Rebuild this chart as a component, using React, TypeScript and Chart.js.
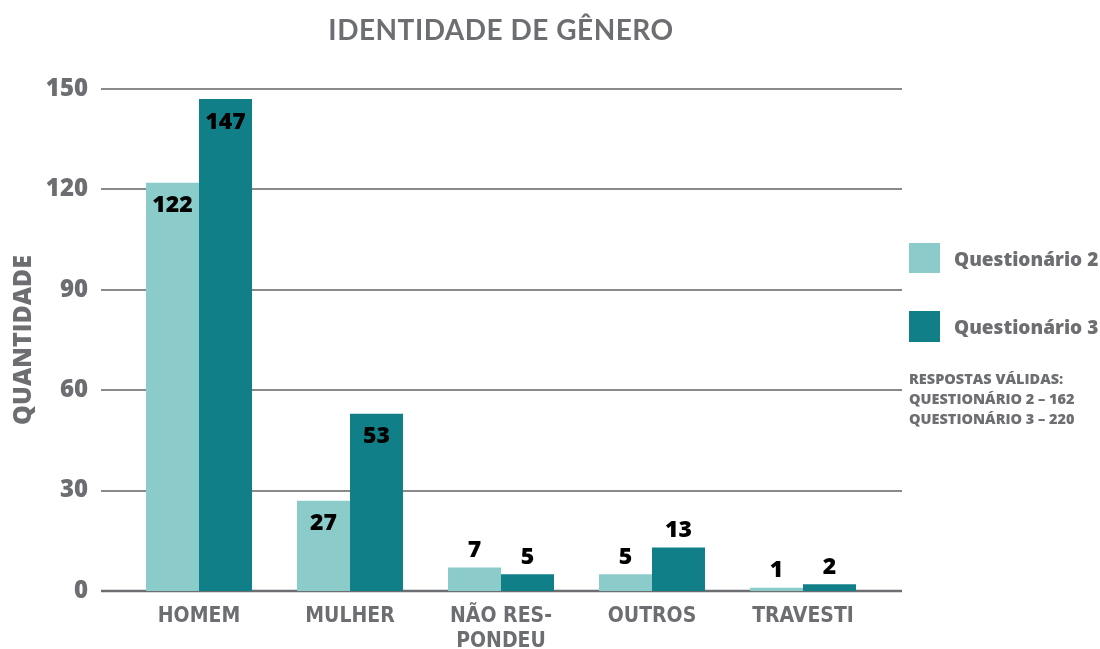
import React, { useEffect, useRef } from "react";
import { Chart, registerables } from "chart.js";

Chart.register(...registerables);

const title = "IDENTIDADE DE GÊNERO";
const categories: (string | string[])[] = ["HOMEM", "MULHER", ["NÃO RES-", "PONDEU"], "OUTROS", "TRAVESTI"];
const seriesNames = ["Questionário 2", "Questionário 3"];
const q2Values = [122, 27, 7, 5, 1];
const q3Values = [147, 53, 5, 13, 2];
const yTicks = [0, 30, 60, 90, 120, 150];
const yTitle = "QUANTIDADE";
const noteLines = ["RESPOSTAS VÁLIDAS:", "QUESTIONÁRIO 2 – 162", "QUESTIONÁRIO 3 – 220"];

const GRAY = "#6d6e71";
const LIGHT = "#8bcccb";
const DARK = "#107f88";
const colors = [LIGHT, DARK];

const gridPlugin = {
  id: "customGrid",
  beforeDatasetsDraw(chart: any) {
    const { ctx, chartArea, scales } = chart;
    const y = scales.y;
    ctx.save();
    yTicks.forEach((v) => {
      const py = Math.round(y.getPixelForValue(v));
      ctx.beginPath();
      ctx.strokeStyle = v === 0 ? "#6d6e71" : "#8a8a8a";
      ctx.lineWidth = v === 0 ? 2.5 : 2;
      ctx.moveTo(chartArea.left - 22.5, py);
      ctx.lineTo(chartArea.right + 23.5, py);
      ctx.stroke();
    });
    ctx.restore();
  },
};

const labelPlugin = {
  id: "valueLabels",
  afterDatasetsDraw(chart: any) {
    const { ctx } = chart;
    ctx.save();
    ctx.font = "800 23px 'Open Sans'";
    ctx.fillStyle = "#000000";
    ctx.textAlign = "center";
    ctx.textBaseline = "middle";
    chart.data.datasets.forEach((ds: any, di: number) => {
      const meta = chart.getDatasetMeta(di);
      meta.data.forEach((bar: any, i: number) => {
        const v = ds.data[i];
        const ty = v >= 20 ? bar.y + 23 : bar.y - 17;
        ctx.fillText(String(v), bar.x, ty);
      });
    });
    ctx.restore();
  },
};

export default function App() {
  const ref = useRef<HTMLCanvasElement | null>(null);

  useEffect(() => {
    if (!ref.current) return;
    const chart = new Chart(ref.current, {
      type: "bar",
      data: {
        labels: categories,
        datasets: [
          { label: seriesNames[0], data: q2Values, backgroundColor: colors[0], borderWidth: 0 },
          { label: seriesNames[1], data: q3Values, backgroundColor: colors[1], borderWidth: 0 },
        ],
      },
      options: {
        responsive: false,
        animation: false,
        layout: { padding: { left: 0, top: 89, right: 221.5, bottom: 0 } },
        datasets: { bar: { barPercentage: 1, categoryPercentage: 0.702 } } as any,
        plugins: {
          legend: { display: false },
          tooltip: { enabled: false },
          title: { display: false },
        },
        scales: {
          x: {
            grid: { display: false, drawTicks: false },
            border: { display: false },
            ticks: {
              color: GRAY,
              padding: 13,
              maxRotation: 0,
              autoSkip: false,
              font: { family: "'Liberation Sans Narrow', 'DejaVu Sans Condensed', 'Open Sans'", weight: "bold", size: 21, lineHeight: "25px" } as any,
            },
            afterFit(scale: any) {
              scale.height = 58;
            },
          },
          y: {
            min: 0,
            max: 150,
            grid: { display: false, drawTicks: false },
            border: { display: false },
            ticks: {
              stepSize: 30,
              color: GRAY,
              padding: 35.5,
              font: { family: "'Open Sans'", weight: 800 as any, size: 24 },
            },
            title: {
              display: true,
              text: yTitle,
              color: GRAY,
              font: { family: "'Open Sans'", weight: 800 as any, size: 25, lineHeight: 1 },
              padding: { top: 11.5, bottom: 0 },
            },
            afterFit(scale: any) {
              scale.width = 123.5;
            },
          },
        },
      },
      plugins: [gridPlugin, labelPlugin],
    });
    return () => chart.destroy();
  }, []);

  const legendText: React.CSSProperties = {
    position: "absolute",
    left: 954,
    fontFamily: "'Open Sans', sans-serif",
    fontWeight: 800,
    fontSize: 19,
    color: GRAY,
    lineHeight: "30px",
    whiteSpace: "nowrap",
  };

  return (
    <div style={{ position: "absolute", left: 0, top: 0, width: 1100, height: 649, background: "#ffffff", overflow: "hidden" }}>
      <canvas ref={ref} width={1100} height={649} style={{ position: "absolute", left: 0, top: 0 }} />
      <div
        style={{
          position: "absolute",
          left: 123.5,
          width: 755,
          top: 11,
          textAlign: "center",
          fontFamily: "Lato, 'Open Sans', sans-serif",
          fontWeight: 700,
          fontSize: 28,
          lineHeight: "36px",
          color: GRAY,
          letterSpacing: 0.5,
          whiteSpace: "nowrap",
        }}
      >
        {title}
      </div>
      <div style={{ position: "absolute", left: 909, top: 243, width: 31, height: 30, background: colors[0] }} />
      <div style={{ ...legendText, top: 244 }}>{seriesNames[0]}</div>
      <div style={{ position: "absolute", left: 909, top: 311, width: 31, height: 31, background: colors[1] }} />
      <div style={{ ...legendText, top: 312 }}>{seriesNames[1]}</div>
      <div
        style={{
          position: "absolute",
          left: 909,
          top: 369,
          fontFamily: "'Open Sans', sans-serif",
          fontWeight: 800,
          fontSize: 14.5,
          lineHeight: "20px",
          color: GRAY,
          whiteSpace: "nowrap",
        }}
      >
        {noteLines.map((l, i) => (
          <div key={i}>{l}</div>
        ))}
      </div>
    </div>
  );
}
